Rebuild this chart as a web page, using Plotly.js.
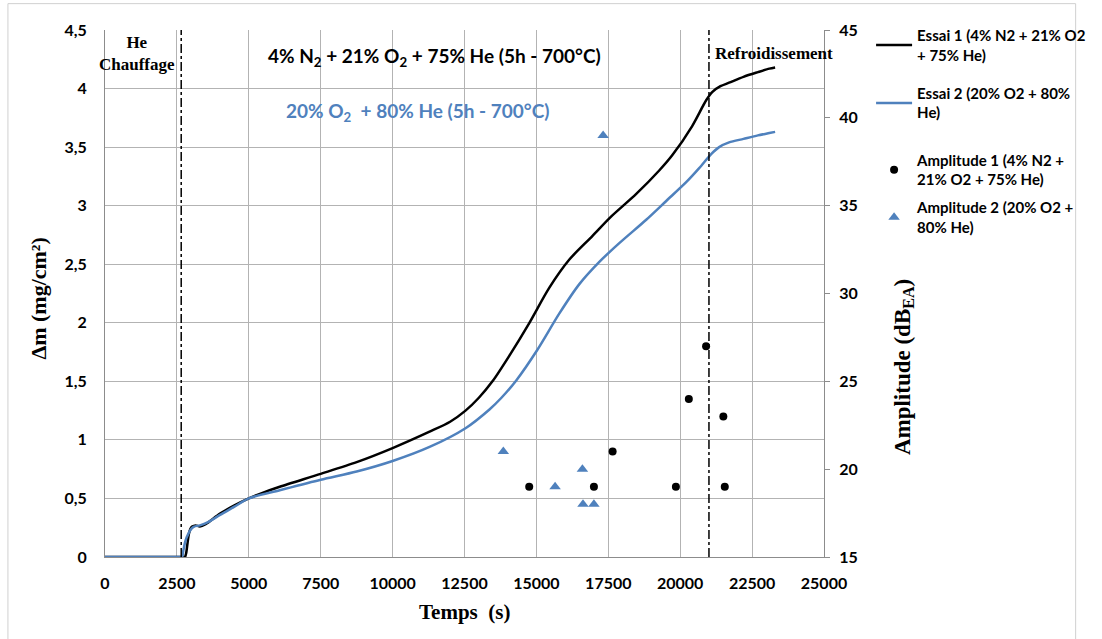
<!DOCTYPE html>
<html><head><meta charset="utf-8">
<script src="https://cdn.plot.ly/plotly-3.0.1.min.js"></script>
<style>html,body{margin:0;padding:0;background:#fff}#chart{width:1102px;height:639px}</style>
</head><body><div id="chart"></div>
<script>
// Essai 1 (black) mass gain
const essai1_t = [0, 1000, 2000, 2500, 2720, 2780, 2820, 2870, 2920, 2970, 3030, 3150, 3300, 3500, 4000, 4500, 5000, 5500, 6076, 7500, 8750, 10000, 11285, 12000, 12535, 13000, 13472, 14062, 14757, 15451, 16146, 16944, 17570, 18472, 19270, 19722, 20417, 20903, 21111, 21400, 21700, 22200, 22700, 23100, 23300];
const essai1_dm = [0, 0, 0, 0, 0, 0, 0.03, 0.12, 0.2, 0.24, 0.26, 0.27, 0.26, 0.28, 0.37, 0.44, 0.5, 0.55, 0.6, 0.71, 0.81, 0.93, 1.07, 1.155, 1.25, 1.36, 1.5, 1.72, 2.0, 2.3, 2.54, 2.74, 2.9, 3.1, 3.3, 3.43, 3.68, 3.9, 3.97, 4.02, 4.05, 4.1, 4.14, 4.17, 4.18];
// Essai 2 (blue) mass gain
const essai2_t = [0, 1000, 2000, 2450, 2630, 2680, 2720, 2800, 2900, 3000, 3100, 3300, 3600, 4000, 4500, 5000, 6076, 7500, 8750, 10000, 11285, 12535, 13368, 13785, 14306, 15035, 15799, 16493, 17188, 17882, 18819, 19514, 20208, 20660, 21076, 21354, 21700, 22200, 22700, 23100, 23300];
const essai2_dm = [0, 0, 0, 0, 0, 0, 0.05, 0.14, 0.2, 0.24, 0.26, 0.27, 0.3, 0.36, 0.43, 0.5, 0.57, 0.66, 0.73, 0.82, 0.94, 1.1, 1.26, 1.36, 1.51, 1.77, 2.08, 2.33, 2.52, 2.68, 2.88, 3.04, 3.2, 3.32, 3.44, 3.5, 3.54, 3.57, 3.6, 3.62, 3.63];
// Amplitudes (right axis)
const amp1_t = [14750, 17000, 17650, 19850, 20300, 20900, 21500, 21550];
const amp1_db = [19, 19, 21, 19, 24, 27, 23, 19];
const amp2_t = [13850, 15650, 16600, 16620, 17000, 17320];
const amp2_db = [21, 19, 20, 18, 18, 39];
// Phase boundaries
const phase_t = [2650, 21000];

const xTicks = [0, 2500, 5000, 7500, 10000, 12500, 15000, 17500, 20000, 22500, 25000];
const xTickText = ["0", "2500", "5000", "7500", "10000", "12500", "15000", "17500", "20000", "22500", "25000"];

const sans = 'Lato, "Open Sans", sans-serif';
const serif = '"Liberation Serif", "DejaVu Serif", serif';
const tickFont = {family: sans, size: 16, color: '#000', weight: 'bold'};
const legFont = {family: sans, size: 15, color: '#000', weight: 'bold'};

const traces = [
  {x: essai1_t, y: essai1_dm, type: 'scatter', mode: 'lines', name: 'Essai 1 (4% N2 + 21% O2<br>+ 75% He)', legend: 'legend',
   line: {color: '#000000', width: 2.5, shape: 'spline', smoothing: 0.8}},
  {x: essai2_t, y: essai2_dm, type: 'scatter', mode: 'lines', name: 'Essai 2 (20% O2 + 80%<br>He)', legend: 'legend2',
   line: {color: '#4f81bd', width: 2.5, shape: 'spline', smoothing: 0.8}},
  {x: amp1_t, y: amp1_db, type: 'scatter', mode: 'markers', yaxis: 'y2', name: 'Amplitude 1 (4% N2 +<br>21% O2 + 75% He)', legend: 'legend3',
   marker: {color: '#000000', size: 8, symbol: 'circle'}},
  {x: amp2_t, y: amp2_db, type: 'scatter', mode: 'markers', yaxis: 'y2', name: 'Amplitude 2 (20% O2 +<br>80% He)', legend: 'legend4',
   marker: {color: '#4f81bd', size: 10, symbol: 'triangle-up'}}
];

const shapes = phase_t.map(t => ({type: 'line', xref: 'x', yref: 'paper', x0: t, x1: t, y0: 0, y1: 1,
  line: {color: '#000', width: 1.5, dash: 'dashdot'}}));
shapes.push({type: 'rect', xref: 'paper', yref: 'paper', x0: -0.135, x1: 1.35, y0: -0.16, y1: 1.05, line: {color: '#d0d0d0', width: 1}, layer: 'below'});

function leg(y) {
  return {x: 1.064, y: y, xanchor: 'left', yanchor: 'top', font: legFont, itemwidth: 36, bgcolor: 'rgba(0,0,0,0)', borderwidth: 0};
}

const layout = {
  width: 1102, height: 639,
  margin: {l: 105, r: 277, t: 30, b: 82},
  paper_bgcolor: '#fff', plot_bgcolor: '#fff',
  separators: ', ',
  showlegend: true,
  font: {family: sans, size: 15, color: '#000'},
  xaxis: {range: [0, 25000], tickvals: xTicks, ticktext: xTickText, showgrid: true, gridcolor: '#b3b3b3', gridwidth: 1,
    showline: true, linecolor: '#8c8c8c', zeroline: false, ticks: '', tickfont: tickFont, ticklabelstandoff: 12},
  yaxis: {range: [0, 4.5], dtick: 0.5, showgrid: true, gridcolor: '#b3b3b3', gridwidth: 1,
    showline: true, linecolor: '#8c8c8c', zeroline: false, ticks: '', tickfont: tickFont, ticklabelstandoff: 14},
  yaxis2: {range: [15, 45], dtick: 5, overlaying: 'y', side: 'right', showgrid: false,
    showline: true, linecolor: '#8c8c8c', zeroline: false, ticks: 'outside', ticklen: 5, tickcolor: '#8c8c8c', tickfont: tickFont, ticklabelstandoff: 6},
  legend: leg(1.021),
  legend2: leg(0.911),
  legend3: leg(0.784),
  legend4: leg(0.694),
  shapes: shapes,
  annotations: [
    {xref: 'paper', yref: 'paper', x: 0.045, y: 0.998, text: '<b>He<br>Chauffage</b>', showarrow: false,
     font: {family: serif, size: 17, color: '#000'}, align: 'center', xanchor: 'center', yanchor: 'top'},
    {xref: 'x', yref: 'paper', x: 11450, y: 0.978, text: '<b>4% N<sub>2</sub> + 21% O<sub>2</sub> + 75% He (5h - 700°C)</b>', showarrow: false,
     font: {family: sans, size: 19, color: '#000'}, xanchor: 'center', yanchor: 'top'},
    {xref: 'x', yref: 'paper', x: 10900, y: 0.872, text: '<b>20% O<sub>2</sub>  + 80% He (5h - 700°C)</b>', showarrow: false,
     font: {family: sans, size: 19, color: '#4f81bd'}, xanchor: 'center', yanchor: 'top'},
    {xref: 'x', yref: 'paper', x: 21150, y: 0.978, text: '<b>Refroidissement</b>', showarrow: false,
     font: {family: serif, size: 17, color: '#000'}, xanchor: 'left', yanchor: 'top'},
    {xref: 'paper', yref: 'paper', x: 0.5, y: -0.105, text: '<b>Temps  (s)</b>', showarrow: false,
     font: {family: serif, size: 21, color: '#000'}, xanchor: 'center', yanchor: 'middle'},
    {xref: 'paper', yref: 'paper', x: -0.092, y: 0.49, text: '<b>Δm (mg/cm²)</b>', showarrow: false, textangle: -90,
     font: {family: serif, size: 22, color: '#000'}, xanchor: 'center', yanchor: 'middle'},
    {xref: 'paper', yref: 'paper', x: 1.111, y: 0.36, text: '<b>Amplitude (dB<sub>EA</sub>)</b>', showarrow: false, textangle: -90,
     font: {family: serif, size: 23, color: '#000'}, xanchor: 'center', yanchor: 'middle'}
  ]
};

Plotly.newPlot('chart', traces, layout, {displayModeBar: false, staticPlot: true});
</script>
</body></html>
